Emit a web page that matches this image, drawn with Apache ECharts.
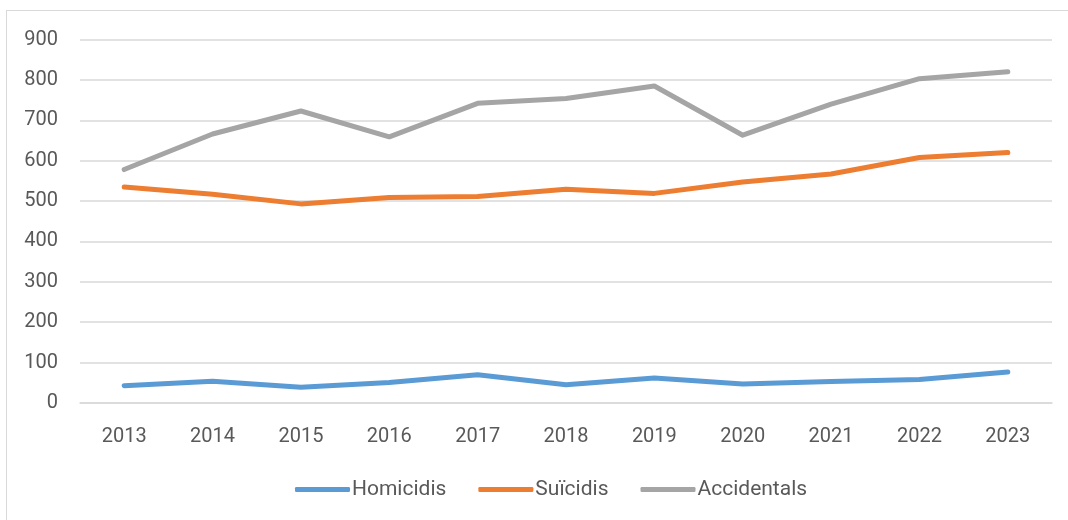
<!DOCTYPE html>
<html>
<head>
<meta charset="utf-8">
<script src="https://cdn.jsdelivr.net/npm/echarts@6/dist/echarts.min.js"></script>
<style>
  html, body { margin: 0; padding: 0; background: #fff; }
  #frame { position: absolute; left: 6px; top: 10px; width: 1070px; height: 520px; border: 1px solid #d9d9d9; box-sizing: border-box; }
  #chart { position: absolute; left: 0; top: 0; width: 1068px; height: 520px; }
</style>
</head>
<body>
<div id="frame"></div>
<div id="chart"></div>
<script>
// anys
var years = ['2013', '2014', '2015', '2016', '2017', '2018', '2019', '2020', '2021', '2022', '2023'];
// valors llegits del gràfic
var homicidis = [43, 54, 39, 51, 70, 45, 62, 47, 53, 58, 77];
var suicidis = [535, 517, 493, 509, 511, 529, 519, 547, 567, 608, 620];
var accidentals = [578, 666, 723, 659, 742, 754, 785, 663, 740, 803, 820];

var textColor = '#595959';
var chart = echarts.init(document.getElementById('chart'));

function serie(name, data, color) {
  return {
    name: name,
    type: 'line',
    data: data,
    symbol: 'none',
    smooth: false,
    itemStyle: { color: color },
    lineStyle: { width: 5, color: color, cap: 'round', join: 'round' }
  };
}

chart.setOption({
  animation: false,
  textStyle: { fontFamily: 'Roboto' },
  grid: { left: 80, right: 16, top: 39.5, bottom: 117 },
  legend: {
    bottom: 15,
    left: 290,
    itemWidth: 55,
    itemHeight: 5,
    itemGap: 32,
    icon: 'roundRect',
    textStyle: { color: textColor, fontSize: 21, fontFamily: 'Roboto', padding: [0, 0, 0, -3] },
    data: ['Homicidis', 'Suïcidis', 'Accidentals']
  },
  xAxis: {
    type: 'category',
    data: years,
    boundaryGap: true,
    axisLine: { lineStyle: { color: '#d9d9d9', width: 1.5 } },
    axisTick: { show: false },
    axisLabel: { color: textColor, fontSize: 20, margin: 24 }
  },
  yAxis: {
    type: 'value',
    min: 0,
    max: 900,
    interval: 100,
    axisLine: { show: false },
    axisTick: { show: false },
    axisLabel: { color: textColor, fontSize: 20, margin: 22 },
    splitLine: { lineStyle: { color: '#d9d9d9', width: 1.5 } }
  },
  series: [
    serie('Homicidis', homicidis, '#5b9bd5'),
    serie('Suïcidis', suicidis, '#ed7d31'),
    serie('Accidentals', accidentals, '#a5a5a5')
  ]
});
</script>
</body>
</html>
